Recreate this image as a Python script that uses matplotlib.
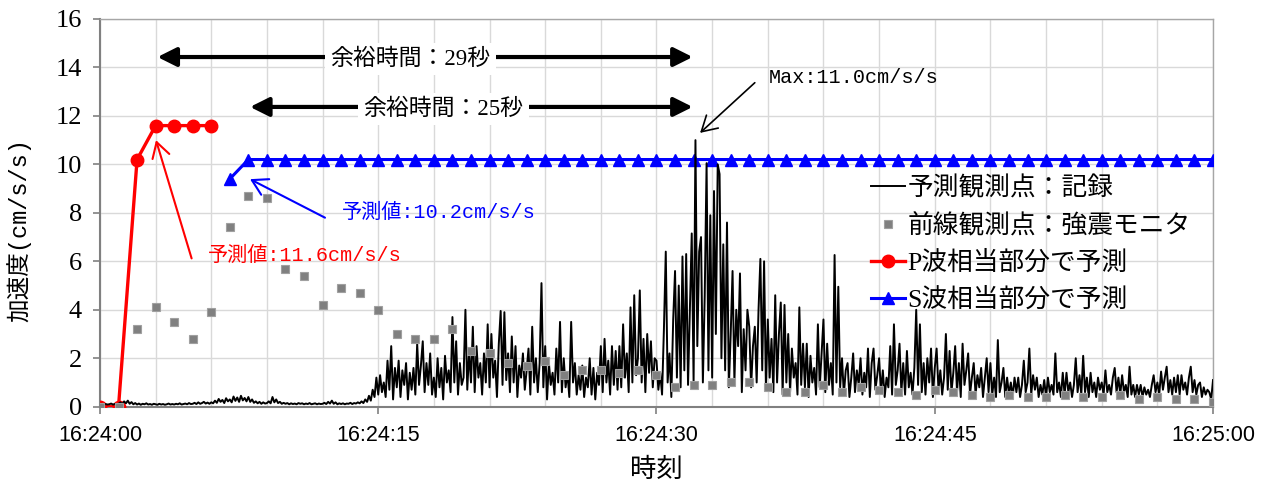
import numpy as np
import matplotlib
matplotlib.use("Agg")
import matplotlib.pyplot as plt

plt.rcParams['font.family'] = ['Liberation Serif', 'Noto Sans CJK JP']

# seconds after 16:24:00
sec = list(range(61))
monitor = [0, 0, 3.2, 4.1, 3.5, 2.8, 3.9, 7.4, 8.7, 8.6,
           5.7, 5.4, 4.2, 4.9, 4.7, 4.0, 3.0, 2.8, 2.8, 3.2,
           2.3, 2.2, 1.8, 1.7, 1.9, 1.3, 1.5, 1.5, 1.4, 1.5,
           1.3, 0.8, 0.9, 0.9, 1.0, 1.0, 0.8, 0.6, 0.6, 0.9,
           0.6, 0.8, 0.7, 0.6, 0.5, 0.7, 0.6, 0.5, 0.4, 0.5,
           0.4, 0.4, 0.5, 0.4, 0.4, 0.5, 0.3, 0.4, 0.3, 0.3, 0.2]

p_time = [0, 1, 2, 3, 4, 5, 6]
p_pred = [0, 0, 10.2, 11.6, 11.6, 11.6, 11.6]

s_time = list(range(7, 61))
s_pred = [9.4, 10.2, 10.2, 10.2, 10.2, 10.2, 10.2, 10.2, 10.2, 10.2,
          10.2, 10.2, 10.2, 10.2, 10.2, 10.2, 10.2, 10.2, 10.2, 10.2,
          10.2, 10.2, 10.2, 10.2, 10.2, 10.2, 10.2, 10.2, 10.2, 10.2,
          10.2, 10.2, 10.2, 10.2, 10.2, 10.2, 10.2, 10.2, 10.2, 10.2,
          10.2, 10.2, 10.2, 10.2, 10.2, 10.2, 10.2, 10.2, 10.2, 10.2,
          10.2, 10.2, 10.2, 10.2]

# recorded acceleration, 10 samples per second
record = [
    0.10, 0.12, 0.08, 0.11, 0.09, 0.10, 0.13, 0.09, 0.11, 0.10,
    0.12, 0.18, 0.10, 0.22, 0.14, 0.25, 0.12, 0.19, 0.10, 0.15,
    0.09, 0.13, 0.08, 0.12, 0.10, 0.14, 0.09, 0.11, 0.08, 0.12,
    0.10, 0.08, 0.12, 0.09, 0.11, 0.08, 0.10, 0.13, 0.09, 0.11,
    0.09, 0.12, 0.10, 0.14, 0.09, 0.11, 0.13, 0.10, 0.15, 0.11,
    0.12, 0.16, 0.11, 0.18, 0.12, 0.15, 0.20, 0.13, 0.17, 0.12,
    0.18, 0.14, 0.25, 0.16, 0.32, 0.20, 0.28, 0.15, 0.35, 0.22,
    0.30, 0.18, 0.42, 0.24, 0.38, 0.20, 0.45, 0.26, 0.36, 0.22,
    0.40, 0.20, 0.30, 0.16, 0.22, 0.14, 0.20, 0.12, 0.18, 0.13,
    0.15, 0.22, 0.14, 0.40, 0.18, 0.30, 0.15, 0.20, 0.12, 0.16,
    0.12, 0.15, 0.10, 0.14, 0.11, 0.13, 0.10, 0.15, 0.12, 0.14,
    0.10, 0.13, 0.11, 0.15, 0.10, 0.12, 0.14, 0.10, 0.13, 0.11,
    0.12, 0.16, 0.11, 0.20, 0.13, 0.25, 0.12, 0.18, 0.10, 0.14,
    0.11, 0.14, 0.10, 0.13, 0.12, 0.16, 0.11, 0.15, 0.13, 0.18,
    0.14, 0.22, 0.15, 0.30, 0.20, 0.45, 0.25, 0.70, 0.40, 1.20,
    0.50, 1.30, 0.60, 1.00, 0.40, 1.90, 0.70, 2.50, 0.30, 1.60,
    0.80, 1.90, 0.40, 1.50, 0.90, 1.80, 0.30, 1.40, 0.70, 1.60,
    0.50, 2.60, 0.90, 1.70, 2.70, 0.60, 1.80, 0.90, 2.20, 0.50,
    1.20, 0.40, 2.00, 0.80, 1.60, 0.30, 2.10, 1.00, 1.50, 0.60,
    3.70, 1.00, 2.70, 0.50, 1.80, 0.90, 1.20, 4.00, 0.70, 2.30,
    1.00, 3.30, 0.60, 2.50, 1.20, 1.80, 0.50, 2.20, 1.00, 3.40,
    0.80, 3.00, 1.20, 1.90, 0.40, 2.60, 3.95, 0.90, 3.90, 1.10,
    2.20, 0.60, 2.90, 1.00, 2.50, 0.40, 1.70, 1.20, 2.20, 0.70,
    1.50, 2.40, 0.50, 3.30, 1.00, 2.00, 0.60, 1.80, 5.10, 0.80,
    2.50, 0.30, 1.80, 0.90, 1.40, 0.50, 2.40, 1.00, 3.50, 0.60,
    2.00, 0.80, 1.40, 0.40, 3.50, 1.00, 1.80, 0.50, 1.30, 0.70,
    1.70, 0.40, 1.20, 0.80, 2.00, 0.50, 1.60, 0.30, 1.40, 0.90,
    2.50, 0.60, 2.80, 1.00, 1.90, 0.50, 2.50, 0.90, 2.30, 0.70,
    2.50, 0.80, 3.40, 1.20, 2.20, 0.60, 4.10, 1.00, 4.60, 1.30,
    2.00, 4.80, 1.00, 2.80, 0.60, 3.00, 1.40, 2.70, 0.80, 2.00,
    1.90, 0.70, 1.40, 0.50, 3.20, 6.40, 1.00, 2.20, 0.40, 3.60,
    5.60, 1.20, 5.00, 0.80, 6.20, 1.50, 6.30, 0.90, 4.00, 7.15,
    1.00, 11.0, 2.50, 6.40, 7.00, 1.00, 4.60, 10.05, 1.50, 7.90,
    1.20, 8.90, 3.00, 10.0, 9.60, 2.00, 6.70, 1.50, 7.60, 0.80,
    3.00, 5.60, 1.00, 4.00, 2.50, 5.50, 0.60, 3.20, 1.50, 4.00,
    3.30, 0.80, 2.50, 3.30, 1.00, 4.00, 6.10, 1.50, 6.00, 0.70,
    3.60, 1.20, 2.80, 0.60, 4.60, 1.00, 3.00, 4.30, 0.50, 4.20,
    1.00, 3.00, 0.60, 2.40, 1.20, 1.80, 0.50, 4.10, 0.90, 2.60,
    0.80, 2.60, 0.40, 2.10, 1.00, 1.60, 0.50, 3.40, 0.80, 2.20,
    3.60, 0.60, 2.60, 0.90, 1.80, 0.50, 6.26, 1.00, 4.95, 0.80,
    2.00, 0.50, 1.50, 1.80, 0.40, 1.20, 2.20, 0.60, 1.50, 0.90,
    2.00, 0.50, 1.40, 0.80, 2.40, 0.40, 1.80, 2.40, 0.70, 1.30,
    2.00, 0.60, 1.50, 0.40, 1.20, 0.80, 2.50, 0.50, 3.40, 0.90,
    1.50, 2.60, 0.60, 1.80, 0.50, 2.30, 0.80, 1.40, 0.50, 1.60,
    4.00, 0.90, 3.40, 0.60, 1.80, 0.50, 2.00, 1.00, 2.40, 0.40,
    1.60, 2.40, 0.70, 1.50, 0.50, 1.20, 3.00, 0.70, 2.30, 0.60,
    1.40, 2.50, 0.60, 1.80, 0.40, 2.60, 0.90, 1.50, 2.20, 0.50,
    1.20, 1.80, 0.50, 1.30, 0.80, 1.60, 0.40, 1.20, 2.00, 0.60,
    1.80, 0.50, 1.20, 0.40, 2.75, 0.60, 1.00, 1.60, 0.40, 1.20,
    0.50, 1.00, 0.40, 1.20, 0.60, 1.20, 0.40, 0.90, 1.90, 0.60,
    1.00, 2.40, 0.50, 1.30, 0.70, 1.20, 0.40, 0.90, 0.50, 1.10,
    0.40, 1.20, 0.60, 0.90, 0.50, 2.20, 0.60, 1.00, 0.40, 1.40,
    0.50, 1.40, 0.60, 1.00, 0.40, 0.90, 2.00, 0.60, 1.30, 0.50,
    2.10, 0.60, 1.20, 0.40, 1.40, 0.60, 1.00, 0.40, 1.20, 0.70,
    1.00, 0.50, 1.50, 0.60, 0.90, 0.50, 1.20, 1.60, 0.60, 1.20,
    0.50, 1.30, 0.60, 0.90, 0.40, 1.65, 0.50, 0.90, 0.40, 0.90,
    0.50, 0.90, 0.40, 0.80, 0.50, 0.70, 0.40, 0.90, 1.30, 0.60,
    1.00, 0.50, 1.45, 0.70, 1.20, 1.65, 0.60, 1.10, 0.50, 1.20,
    0.60, 1.30, 0.50, 1.30, 0.70, 1.00, 0.50, 1.20, 1.65, 0.60,
    1.10, 0.50, 0.90, 1.00, 0.40, 0.80, 0.50, 0.70, 0.60, 0.30,
    1.10,
]
rec_time = np.arange(len(record)) * 0.1

xtick_pos = [0, 15, 30, 45, 60]
xtick_labels = ["16:24:00", "16:24:15", "16:24:30", "16:24:45", "16:25:00"]
ytick_pos = [0, 2, 4, 6, 8, 10, 12, 14, 16]

fig = plt.figure(figsize=(12.67, 4.84), dpi=100)
ax = fig.add_axes([0.0789, 0.1597, 0.8785, 0.8011])

ax.plot(rec_time, record, color='black', lw=1.4, zorder=4, label='予測観測点：記録')
ax.plot(sec, monitor, ls='none', marker='s', ms=6, mfc='#808080', mec='#a0a0a0',
        mew=0.8, zorder=5, label='前線観測点：強震モニタ')
ax.plot(p_time, p_pred, color='#ff0000', lw=2.4, marker='o', ms=9, zorder=3,
        label='P波相当部分で予測')
ax.plot(s_time, s_pred, color='#0000ff', lw=2.2, marker='^', ms=8.5, zorder=3,
        label='S波相当部分で予測')

ax.set_xlim(0, 60)
ax.set_ylim(0, 16)
ax.set_xticks(xtick_pos, xtick_labels)
ax.set_xticks(np.arange(0, 61, 3), minor=True)
ax.set_yticks(ytick_pos, [str(v) for v in ytick_pos])
for lab in ax.get_xticklabels():
    lab.set_family('Liberation Sans')
    lab.set_fontsize(15.5)
for lab in ax.get_yticklabels():
    lab.set_family('Liberation Serif')
    lab.set_fontsize(19)
ax.tick_params(which='major', length=5, color='#808080', width=1.2)
ax.tick_params(axis='x', which='major', pad=8)
ax.tick_params(axis='y', which='major', pad=8)
ax.tick_params(which='minor', length=0)
ax.grid(which='both', color='#d9d9d9', lw=1.0)
ax.set_axisbelow(True)
for side in ['top', 'right']:
    ax.spines[side].set_color('#a6a6a6')
    ax.spines[side].set_linewidth(1.0)
for side in ['left', 'bottom']:
    ax.spines[side].set_color('#808080')
    ax.spines[side].set_linewidth(1.5)

ax.set_xlabel('時刻', family='Noto Sans CJK JP', fontsize=19)
ax.xaxis.set_label_coords(0.5, -0.128)
ax.set_ylabel('加速度(cm/s/s)', family=['Liberation Mono', 'Noto Sans CJK JP'], fontsize=17)
ax.yaxis.set_label_coords(-0.062, 0.456)

# lead-time arrows
big = dict(arrowstyle='<|-|>,head_length=0.6,head_width=0.3', mutation_scale=19,
           lw=3, color='black', shrinkA=0, shrinkB=0)
ax.annotate('', xy=(3.1, 14.43), xytext=(31.95, 14.43), arrowprops=big, zorder=6)
ax.annotate('', xy=(8.09, 12.37), xytext=(31.95, 12.37), arrowprops=big, zorder=6)
white = dict(fc='white', ec='none', pad=4)
ax.text(16.75, 14.35, '余裕時間：29秒', ha='center', va='center', fontsize=16.5,
        bbox=white, zorder=7)
ax.text(18.5, 12.28, '余裕時間：25秒', ha='center', va='center', fontsize=16.5,
        bbox=white, zorder=7)

mono = ['Liberation Mono', 'Noto Sans CJK JP']
ax.text(36.06, 13.6, 'Max:11.0cm/s/s', ha='left', va='center', fontsize=14.5,
        family=mono, zorder=7)
ax.annotate('', xy=(32.35, 11.3), xytext=(35.3, 13.37),
            arrowprops=dict(arrowstyle='->,head_length=0.6,head_width=0.35',
                            mutation_scale=18, lw=1.2, color='black',
                            shrinkA=0, shrinkB=0), zorder=7)

ax.text(13.03, 8.0, '予測値:10.2cm/s/s', ha='left', va='center', fontsize=14.5,
        family=mono, color='#0000ff', zorder=7)
ax.annotate('', xy=(8.09, 9.39), xytext=(12.13, 7.8),
            arrowprops=dict(arrowstyle='->,head_length=0.6,head_width=0.35',
                            mutation_scale=18, lw=1.5, color='#0000ff',
                            shrinkA=0, shrinkB=0), zorder=7)

ax.text(5.84, 6.23, '予測値:11.6cm/s/s', ha='left', va='center', fontsize=14.5,
        family=mono, color='#ff0000', zorder=7)
ax.annotate('', xy=(3.02, 11.0), xytext=(4.94, 6.12),
            arrowprops=dict(arrowstyle='->,head_length=0.6,head_width=0.35',
                            mutation_scale=18, lw=1.5, color='#ff0000',
                            shrinkA=0, shrinkB=0), zorder=7)

leg = ax.legend(loc='upper left', bbox_to_anchor=(0.693, 0.595), frameon=False,
                fontsize=18.5, borderpad=0, labelspacing=0.5, handlelength=1.3,
                handletextpad=0.1, borderaxespad=0)

fig.savefig('out.png', dpi=100)
